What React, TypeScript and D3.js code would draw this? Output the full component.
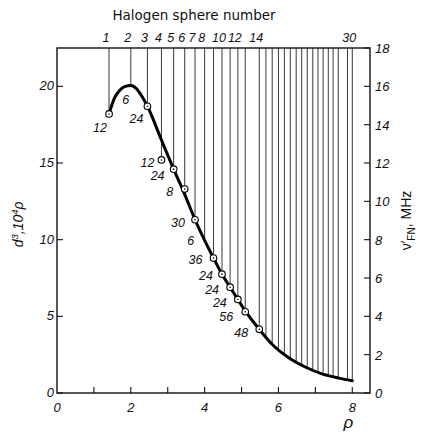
import React from "react";
import * as d3 from "d3";

// Radii (in lattice units) of the successive halogen spheres, 1..30
const SPHERE_RHO = [
  1.41, 2.0, 2.45, 2.83, 3.16, 3.46, 3.74, 4.0, 4.24, 4.47, 4.69, 4.9, 5.1, 5.48,
  5.66, 5.83, 6.0, 6.16, 6.32, 6.48, 6.63, 6.78, 6.93, 7.07, 7.21, 7.35, 7.48,
  7.62, 7.87, 8.0,
];
// Sphere numbers printed along the top edge
const TOP_LABELLED_SPHERES = [1, 2, 3, 4, 5, 6, 7, 8, 10, 12, 14, 30];

// Measured points for the first 14 spheres (left-axis units) and the
// number of halogens in each sphere
const POINT_VALUES = [
  18.2, 20.05, 18.7, 15.2, 14.6, 13.3, 11.3, 9.95, 8.8, 7.75, 6.9, 6.1, 5.3, 4.15,
];
const POINT_COUNTS = [
  "12", "6", "24", "12", "24", "8", "30", "6", "36", "24", "24", "24", "56", "48",
];
const POINT_CIRCLED = [
  true, false, true, true, true, true, true, false, true, true, true, true, true, true,
];

// Smooth curve through the points
const CURVE_RHO = [
  1.41, 1.55, 1.7, 1.85, 2.0, 2.15, 2.3, 2.45, 2.83, 3.16, 3.46, 3.74, 4.0, 4.24,
  4.47, 4.69, 4.9, 5.1, 5.48, 5.82, 6.28, 6.74, 7.18, 7.64, 8.0,
];
const CURVE_VALUES = [
  18.2, 19.2, 19.75, 20.0, 20.05, 19.85, 19.35, 18.7, 16.5, 14.6, 12.95, 11.3, 9.95,
  8.8, 7.75, 6.9, 6.1, 5.35, 4.15, 3.2, 2.3, 1.68, 1.25, 0.97, 0.8,
];

const X_TICKS = [1, 2, 3, 4, 5, 6, 7, 8];
const X_TICK_LABELS = [0, 2, 4, 6, 8];
const LEFT_TICKS = [0, 5, 10, 15, 20];
const RIGHT_TICKS = [0, 2, 4, 6, 8, 10, 12, 14, 16, 18];

// label offsets (px) of each count label relative to its point
const LABEL_OFFSETS: [number, number][] = [
  [-9, 14], [-5, 14], [-11, 12], [-14, 3], [-16, 6], [-15, 2], [-17, 3], [-14, 0],
  [-18, 1], [-16, 1], [-18, 2], [-18, 3], [-19, 5], [-18, 3],
];

const W = 421;
const H = 435;
const LEFT = 57;
const RIGHT = 370;
const TOP = 48;
const BOTTOM = 393;

const italic = {
  fontFamily: "'Liberation Sans', Arial, sans-serif",
  fontStyle: "italic" as const,
};

export default function App() {
  const x = d3.scaleLinear().domain([0, 8.48]).range([LEFT, RIGHT]);
  const yL = d3.scaleLinear().domain([0, 22.5]).range([BOTTOM, TOP]);
  const yR = d3.scaleLinear().domain([0, 18]).range([BOTTOM, TOP]);
  const curveAt = d3.scaleLinear().domain(CURVE_RHO).range(CURVE_VALUES);

  const line = d3
    .line<number>()
    .x((_, i) => x(CURVE_RHO[i]))
    .y((v) => yL(v))
    .curve(d3.curveMonotoneX);

  const sphereEnd = (i: number) =>
    i < POINT_VALUES.length ? POINT_VALUES[i] : curveAt(SPHERE_RHO[i]);

  return (
    <svg
      width={W}
      height={H}
      viewBox={`0 0 ${W} ${H}`}
      style={{ position: "absolute", left: 0, top: 0, background: "#fff" }}
    >
      <rect x={0} y={0} width={W} height={H} fill="#fff" />

      {/* sphere lines from the top edge down to the curve */}
      {SPHERE_RHO.map((r, i) => (
        <line
          key={`s${i}`}
          x1={x(r)}
          x2={x(r)}
          y1={TOP}
          y2={yL(sphereEnd(i))}
          stroke="#222"
          strokeWidth={0.9}
        />
      ))}

      {/* frame */}
      <rect
        x={LEFT}
        y={TOP}
        width={RIGHT - LEFT}
        height={BOTTOM - TOP}
        fill="none"
        stroke="#111"
        strokeWidth={1.4}
      />

      {/* bottom axis */}
      {X_TICKS.map((t) => (
        <line key={`xt${t}`} x1={x(t)} x2={x(t)} y1={BOTTOM} y2={BOTTOM - 6} stroke="#111" strokeWidth={1.1} />
      ))}
      {X_TICK_LABELS.map((t) => (
        <text key={`xl${t}`} x={x(t)} y={BOTTOM + 19} textAnchor="middle" fontSize={13} {...italic} fill="#111">
          {t}
        </text>
      ))}
      <text x={x(8) - 4} y={428} textAnchor="middle" fontSize={17} {...italic} fill="#111">
        ρ
      </text>

      {/* left axis */}
      {LEFT_TICKS.map((t) => (
        <line key={`lt${t}`} x1={LEFT} x2={LEFT + 6} y1={yL(t)} y2={yL(t)} stroke="#111" strokeWidth={1.1} />
      ))}
      {LEFT_TICKS.map((t) => (
        <text key={`ll${t}`} x={LEFT - 3} y={yL(t) + 4} textAnchor="end" fontSize={13} {...italic} fill="#111">
          {t}
        </text>
      ))}
      <text
        transform={`translate(23, ${yL(11)}) rotate(-90)`}
        textAnchor="middle"
        fontSize={14}
        {...italic}
        fill="#111"
      >
        d<tspan dy={-5} fontSize={9.5}>3</tspan>
        <tspan dy={5}>,10</tspan>
        <tspan dy={-5} fontSize={9.5}>4</tspan>
        <tspan dy={5}>ρ</tspan>
      </text>

      {/* right axis */}
      {RIGHT_TICKS.map((t) => (
        <line key={`rt${t}`} x1={RIGHT} x2={RIGHT - 6} y1={yR(t)} y2={yR(t)} stroke="#111" strokeWidth={1.1} />
      ))}
      {RIGHT_TICKS.map((t) => (
        <text key={`rl${t}`} x={RIGHT + 5} y={yR(t) + 5} textAnchor="start" fontSize={13} {...italic} fill="#111">
          {t}
        </text>
      ))}
      <text
        transform={`translate(411, ${yR(9)}) rotate(-90)`}
        textAnchor="middle"
        fontSize={14}
        fontFamily="'Liberation Sans', Arial, sans-serif"
        fill="#111"
      >
        ν′<tspan dy={4} fontSize={10}>FN</tspan>
        <tspan dy={-4}>, MHz</tspan>
      </text>

      {/* top axis: sphere numbers */}
      <text
        x={194}
        y={20}
        textAnchor="middle"
        fontSize={13.5}
        fontFamily="'DejaVu Sans', sans-serif"
        fill="#111"
      >
        Halogen sphere number
      </text>
      {TOP_LABELLED_SPHERES.map((n) => (
        <text
          key={`tl${n}`}
          x={x(SPHERE_RHO[n - 1]) - 3}
          y={42}
          textAnchor="middle"
          fontSize={12.5}
          {...italic}
          fill="#111"
        >
          {n}
        </text>
      ))}

      {/* curve */}
      <path d={line(CURVE_VALUES) ?? ""} fill="none" stroke="#000" strokeWidth={3} strokeLinejoin="round" strokeLinecap="round" />

      {/* points and halogen counts */}
      {POINT_VALUES.map((v, i) => {
        const cx = x(SPHERE_RHO[i]);
        const cy = yL(v);
        const [dx, dy] = LABEL_OFFSETS[i];
        return (
          <g key={`p${i}`}>
            {POINT_CIRCLED[i] && (
              <>
                <circle cx={cx} cy={cy} r={3.3} fill="#fff" stroke="#000" strokeWidth={1.1} />
                <circle cx={cx} cy={cy} r={0.8} fill="#000" />
              </>
            )}
            <text x={cx + dx} y={cy + dy + 4.5} textAnchor="middle" fontSize={12.5} {...italic} fill="#111">
              {POINT_COUNTS[i]}
            </text>
          </g>
        );
      })}
    </svg>
  );
}
